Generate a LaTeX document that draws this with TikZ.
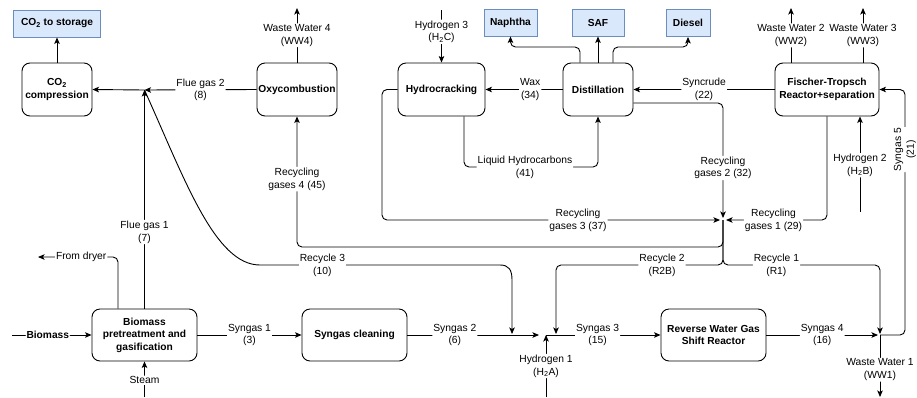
\documentclass[tikz,border=0pt]{standalone}
\usepackage{fontspec}
\setmainfont{Liberation Sans}
\usetikzlibrary{arrows.meta}
\definecolor{prodfill}{HTML}{DAE8FC}
\definecolor{proddraw}{HTML}{6C8EBF}
\begin{document}
\begin{tikzpicture}[x=1pt,y=-1pt,
  line width=0.9pt,
  arr/.style={-{Stealth[length=6.5pt,width=5.5pt,inset=1.5pt]}, rounded corners=5pt},
  proc/.style={draw, rounded corners=8pt, align=center, font=\fontsize{10.2}{12.5}\selectfont\bfseries, inner sep=1pt, minimum height=53pt},
  prod/.style={draw=proddraw, fill=prodfill, align=center, font=\fontsize{10.2}{12}\selectfont\bfseries, inner sep=1pt, minimum height=27pt},
  lab/.style={fill=white, inner sep=1pt, align=center, font=\fontsize{10.3}{12.7}\selectfont},
]
\useasboundingbox (0,0) rectangle (917,397);

% process and product nodes
\node[prod, minimum width=87pt] (store) at (57,23.5) {CO\textsubscript{2} to storage};
\node[proc, minimum width=70pt] (co2c) at (57,89.5) {CO\textsubscript{2}\\compression};
\node[proc, minimum width=80pt] (oxy) at (297,89.5) {Oxycombustion};
\node[proc, minimum width=87pt] (hc) at (441.5,89.5) {Hydrocracking};
\node[proc, minimum width=70pt] (dist) at (598,89.5) {Distillation};
\node[proc, minimum width=104pt] (ft) at (827,89.5) {Fischer-Tropsch\\Reactor+separation};
\node[prod, minimum width=53pt] (naph) at (510.5,22.5) {Naphtha};
\node[prod, minimum width=52pt] (saf) at (598,22.5) {SAF};
\node[prod, minimum width=44pt] (dsl) at (688,23) {Diesel};
\node[proc, minimum width=105pt, minimum height=52pt] (bio) at (144.5,335) {Biomass\\pretreatment and\\gasification};
\node[proc, minimum width=105pt, minimum height=52pt] (clean) at (354.5,335) {Syngas cleaning};
\node[proc, minimum width=105pt, minimum height=52pt] (rwgs) at (713.5,335) {Reverse Water Gas\\Shift Reactor};

% junctions and free ends
\coordinate (jf) at (144.5,90);
\coordinate (jr) at (723,220);
\coordinate (js) at (723,265);
\coordinate (hj) at (546,335);
\coordinate (wj) at (880,335);
\coordinate (s2end) at (539,335);
\coordinate (ww4) at (297,8);
\coordinate (h3) at (441.5,10);
\coordinate (ww2) at (791,8);
\coordinate (ww3) at (863,8);
\coordinate (h2) at (860,212);
\coordinate (bin) at (12,335);
\coordinate (steam) at (144.5,397);
\coordinate (dryer) at (38,257);
\coordinate (h1) at (546,397);
\coordinate (ww1) at (880,397);

% CO2 side
\draw[arr] (co2c.north) -- (store.south);
\draw[arr] (oxy.west) -- node[lab]{Flue gas 2\\(8)} (jf);
\draw[arr] (jf) -- (co2c.east);
\draw[arr] (bio.north) -- node[lab, pos=0.35]{Flue gas 1\\(7)} (jf);
\draw[arr] ([xshift=-26.5pt]bio.north) |- node[lab, pos=0.73]{From dryer} (dryer);
\draw[arr] (bin) -- node[lab, font=\fontsize{10.2}{12}\selectfont\bfseries, pos=0.45]{Biomass} (bio.west);
\draw[arr] (steam) -- node[lab, pos=0.47]{Steam} (bio.south);
\draw[arr] (oxy.north) -- node[lab]{Waste Water 4\\(WW4)} (ww4);
\draw[arr, sharp corners] (jf) .. controls (185,180) and (215,265) .. (260,265)
  -- node[lab, pos=0.26]{Recycle 3\\(10)} (500,265)
  .. controls (509,265) and (512,270) .. (512,280) -- (512,334);

% syngas line
\draw[arr] (bio.east) -- node[lab]{Syngas 1\\(3)} (clean.west);
\draw[arr] (clean.east) -- node[lab, pos=0.36]{Syngas 2\\(6)} (s2end);
\draw[arr] (h1) -- node[lab, pos=0.5]{Hydrogen 1\\(H\textsubscript{2}A)} (hj);
\draw[arr] (hj) -- node[lab, pos=0.45]{Syngas 3\\(15)} (rwgs.west);
\draw[arr] (rwgs.east) -- node[lab]{Syngas 4\\(16)} ([xshift=-2pt]wj);
\draw[arr] (wj) -- node[lab, pos=0.56]{Waste Water 1\\(WW1)} (ww1);
\draw[arr] (wj) -- (905,335) -- node[lab, rotate=90, pos=0.755]{Syngas 5\\(21)} (905,89.5) -- (ft.east);

% Fischer-Tropsch and upgrading
\draw[arr] ([xshift=-36pt]ft.north) -- node[lab]{Waste Water 2\\(WW2)} (ww2);
\draw[arr] ([xshift=36pt]ft.north) -- node[lab]{Waste Water 3\\(WW3)} (ww3);
\draw[arr] (h2) -- node[lab, pos=0.49]{Hydrogen 2\\(H\textsubscript{2}B)} ([xshift=33pt]ft.south);
\draw[arr] (h3) -- node[lab, pos=0.415]{Hydrogen 3\\(H\textsubscript{2}C)} (hc.north);
\draw[arr] (dist.west) -- node[lab, pos=0.42]{Wax\\(34)} (hc.east);
\draw[arr] (ft.west) -- node[lab]{Syncrude\\(22)} (dist.east);
\draw[arr] ([xshift=22.5pt]hc.south) -- (464,167) -- node[lab, pos=0.455]{Liquid Hydrocarbons\\(41)} (598,167) -- (dist.south);

% products
\draw[arr] ([xshift=-18pt]dist.north) -- (580,47) -- (510.5,47) -- (naph.south);
\draw[arr] (dist.north) -- (saf.south);
\draw[arr] ([xshift=15pt]dist.north) -- (613,47) -- (688,47) -- (dsl.south);

% recycling gases
\draw[arr] ([yshift=-13.5pt]dist.east) -- (723,103) -- node[lab, pos=0.565]{Recycling\\gases 2 (32)} ([yshift=2pt]jr);
\draw[arr] (hc.west) -- (382,89.5) -- (382,220) -- node[lab, pos=0.58]{Recycling\\gases 3 (37)} ([xshift=-3pt]jr);
\draw[arr] (ft.south) -- (827,220) -- node[lab, pos=0.53]{Recycling\\gases 1 (29)} ([xshift=3pt]jr);
\draw[arr] (jr) -- (723,247) -- (297,247) -- node[lab, pos=0.52]{Recycling\\gases 4 (45)} (oxy.south);
\draw[arr] (jr) -- (js) -- node[lab, pos=0.365]{Recycle 2\\(R2B)} (556,265) -- (556,334);
\draw[arr] (jr) -- (js) -- node[lab, pos=0.34]{Recycle 1\\(R1)} (880,265) -- (880,334);
\end{tikzpicture}
\end{document}
